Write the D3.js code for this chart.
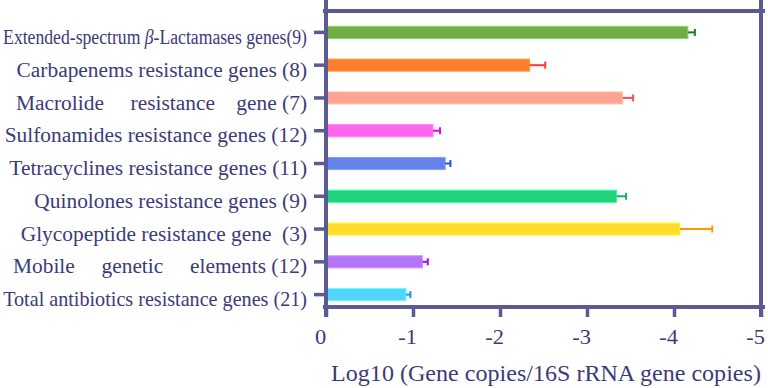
<!DOCTYPE html>
<html>
<head>
<meta charset="utf-8">
<script src="https://cdn.jsdelivr.net/npm/d3@7"></script>
<style>
  body { margin: 0; background: #fff; }
  svg { display: block; font-family: "Liberation Serif", "Times New Roman", serif; }
</style>
</head>
<body>
<div id="chart"></div>
<script>
// categories, top to bottom
const categories = [
    "Extended-spectrum β-Lactamases genes(9)",
    "Carbapenems resistance genes (8)",
    "Macrolide\u00a0\u00a0\u00a0\u00a0 resistance\u00a0\u00a0\u00a0 gene (7)",
    "Sulfonamides resistance genes (12)",
    "Tetracyclines resistance genes (11)",
    "Quinolones resistance genes (9)",
    "Glycopeptide resistance gene\u00a0 (3)",
    "Mobile\u00a0\u00a0\u00a0\u00a0 genetic\u00a0\u00a0\u00a0\u00a0 elements (12)",
    "Total antibiotics resistance genes (21)"
];
const values = [-4.16, -2.34, -3.41, -1.23, -1.37, -3.34, -4.07, -1.11, -0.92];
const errors = [0.08, 0.18, 0.12, 0.08, 0.06, 0.11, 0.37, 0.06, 0.05];
const barColors = ["#70ad47", "#fd7f2e", "#fca391", "#fe66f2", "#6482e9", "#20d27c", "#ffdc2b", "#b275f9", "#53d5fe"];
const errColors = ["#16801a", "#ff3a2c", "#ff4a5e", "#e800e8", "#2452d6", "#10b35e", "#ff9a00", "#9c10f2", "#1a92f2"];
const xTicks = [0, -1, -2, -3, -4, -5];
const xTitle = "Log10 (Gene copies/16S rRNA gene copies)";

const width = 768, height = 388;
const margin = { top: 11, right: 7, bottom: 81, left: 326 };
const lineColor = "#5b5b92";
const textColor = "#3b3b79";
const stretch = 1.07; // the reference text is a bit wider than it is tall

const svg = d3.select('#chart')
    .append('svg')
    .attr('width', width)
    .attr('height', height)
    .attr('viewBox', [0, 0, width, height]);

const x = d3.scaleLinear()
    .domain([0, -5])
    .range([margin.left, width - margin.right]);

const y = d3.scaleBand()
    .domain(categories)
    .range([16, 311])
    .paddingInner(0.63)
    .paddingOuter(0.315);

const yBottom = height - margin.bottom;

// bars
svg.append('g')
    .selectAll('rect')
    .data(categories)
    .join('rect')
    .attr('x', x(0))
    .attr('y', d => y(d))
    .attr('width', (d, i) => x(values[i]) - x(0))
    .attr('height', y.bandwidth())
    .attr('fill', (d, i) => barColors[i])
    .attr('stroke', (d, i) => d3.color(barColors[i]).brighter(0.6))
    .attr('stroke-width', 1);

// error bars (outward only)
const err = svg.append('g')
    .selectAll('g')
    .data(categories)
    .join('g')
    .attr('stroke', (d, i) => errColors[i])
    .attr('stroke-width', 2);

err.append('line')
    .attr('x1', (d, i) => x(values[i]))
    .attr('x2', (d, i) => x(values[i] - errors[i]))
    .attr('y1', d => y(d) + y.bandwidth() / 2)
    .attr('y2', d => y(d) + y.bandwidth() / 2);

err.append('line')
    .attr('x1', (d, i) => x(values[i] - errors[i]))
    .attr('x2', (d, i) => x(values[i] - errors[i]))
    .attr('y1', d => y(d) + y.bandwidth() / 2 - 3.5)
    .attr('y2', d => y(d) + y.bandwidth() / 2 + 3.5);

// frame
const frame = svg.append('g')
    .attr('stroke', lineColor)
    .attr('stroke-width', 4);

frame.append('line')
    .attr('x1', x(0) - 3).attr('x2', x(-5) + 4)
    .attr('y1', margin.top).attr('y2', margin.top);
frame.append('line')
    .attr('x1', x(-5)).attr('x2', x(-5))
    .attr('y1', 0).attr('y2', yBottom + 10);
frame.append('line')
    .attr('x1', x(0)).attr('x2', x(0))
    .attr('y1', 0).attr('y2', yBottom + 10);

// bottom axis
const xAxis = svg.append('g')
    .attr('transform', `translate(0,${yBottom})`)
    .call(d3.axisBottom(x).tickValues(xTicks).tickSize(10).tickPadding(12).tickFormat(d => d === 0 ? "0" : "-" + Math.abs(d)));

xAxis.select('.domain')
    .attr('d', `M${x(0) - 3},0H${x(-5) + 4}`)
    .attr('stroke', lineColor)
    .attr('stroke-width', 4);
xAxis.selectAll('.tick line')
    .attr('stroke', lineColor)
    .attr('stroke-width', 3.5);
xAxis.selectAll('.tick text')
    .attr('fill', textColor)
    .attr('font-family', '"Liberation Serif", serif')
    .attr('font-size', 21)
    .attr('x', -6 / stretch)
    .attr('transform', `scale(${stretch},1)`);

// left axis ticks and labels
const labelGap = 19;
const yAxis = svg.append('g')
    .attr('transform', `translate(${x(0)},0)`)
    .call(d3.axisLeft(y).tickSize(12).tickPadding(labelGap - 12));

yAxis.select('.domain').remove();
yAxis.selectAll('.tick line')
    .attr('stroke', lineColor)
    .attr('stroke-width', 3.5);
yAxis.selectAll('.tick text')
    .attr('fill', textColor)
    .attr('font-family', '"Liberation Serif", serif')
    .attr('font-size', 20)
    .attr('dy', '0.58em')
    .each(function(d) {
        const t = d3.select(this);
        if (d.includes('β')) {
            const parts = d.split('β');
            t.text(null);
            t.append('tspan').text(parts[0]);
            t.append('tspan').attr('font-style', 'italic').text('β');
            t.append('tspan').text(parts[1]);
        }
        // squeeze labels that would run off the left edge
        const avail = x(0) - labelGap - 3;
        const w = this.getComputedTextLength();
        const sx = Math.min(stretch, avail / w);
        t.attr('x', -labelGap / sx)
            .attr('transform', `scale(${sx},1)`);
    });

// axis title
svg.append('text')
    .attr('x', 546 / stretch)
    .attr('y', 381)
    .attr('transform', `scale(${stretch},1)`)
    .attr('text-anchor', 'middle')
    .attr('fill', textColor)
    .attr('font-size', 22.5)
    .text(xTitle);
</script>
</body>
</html>
